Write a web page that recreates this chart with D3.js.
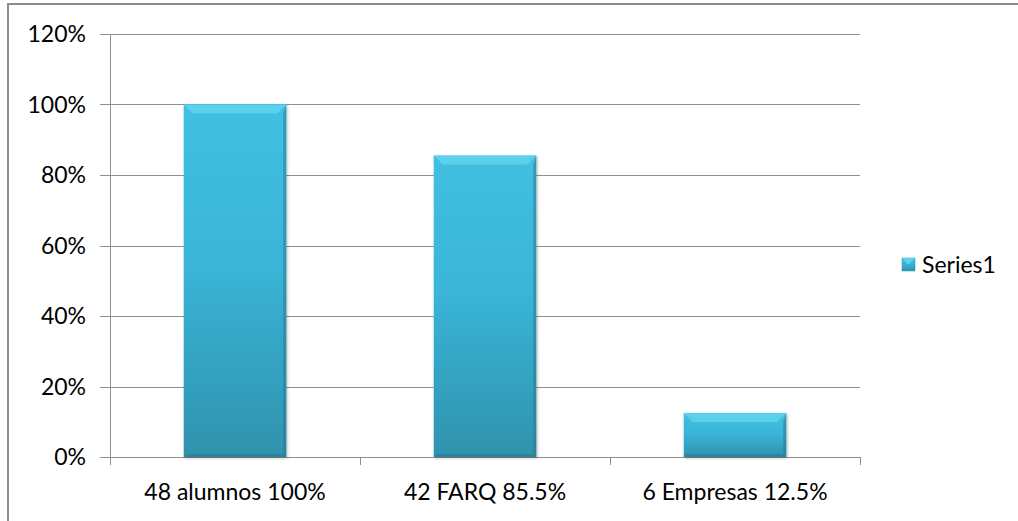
<!DOCTYPE html>
<html><head><meta charset="utf-8">
<script src="https://cdn.jsdelivr.net/npm/d3@7"></script>
<style>html,body{margin:0;padding:0;background:#fff}svg{display:block}</style>
</head><body><svg id="c" width="1018" height="521"></svg>
<script>
const categories = ["48 alumnos 100%", "42 FARQ 85.5%", "6 Empresas 12.5%"];
const series1 = [1.0, 0.855, 0.125];
const yTicks = [0, 0.2, 0.4, 0.6, 0.8, 1.0, 1.2];
const seriesName = "Series1";

const svg = d3.select("#c");
const font = "Lato, 'Open Sans', sans-serif";
const m = {left:110, right:860, top:34, bottom:457};

// frame
svg.append("rect").attr("x",8).attr("y",4).attr("width",1030).attr("height",540)
  .attr("fill","none").attr("stroke","#8c8c8c").attr("stroke-width",2);

const x = d3.scaleBand().domain(categories).range([m.left, m.right]).paddingInner(0.59).paddingOuter(0.295);
const y = d3.scaleLinear().domain([0, 1.2]).range([m.bottom, m.top]);

const defs = svg.append("defs");
const g = defs.append("linearGradient").attr("id","barg").attr("x1",0).attr("y1",0).attr("x2",0).attr("y2",1);
g.append("stop").attr("offset","0%").attr("stop-color","#40c0e2");
g.append("stop").attr("offset","45%").attr("stop-color","#3ab5d8");
g.append("stop").attr("offset","100%").attr("stop-color","#2f92ad");
const f = defs.append("filter").attr("id","sh").attr("x","-10%").attr("y","-10%").attr("width","130%").attr("height","130%");
f.append("feDropShadow").attr("dx",1).attr("dy",1).attr("stdDeviation",1.5).attr("flood-color","#000").attr("flood-opacity",0.3);

// gridlines
svg.append("g").selectAll("line").data(yTicks).join("line")
  .attr("x1", m.left-10).attr("x2", m.right)
  .attr("y1", d=>Math.round(y(d))+0.5).attr("y2", d=>Math.round(y(d))+0.5)
  .attr("stroke","#8f8f8f").attr("stroke-width",1);

// y labels
svg.append("g").selectAll("text").data(yTicks).join("text")
  .attr("x", 86).attr("y", d=>y(d)+8)
  .attr("text-anchor","end").attr("font-family",font).attr("font-size",23).attr("fill","#000")
  .text(d=>d3.format(".0%")(d));

// y axis line
svg.append("line").attr("x1",m.left+0.5).attr("x2",m.left+0.5).attr("y1",m.top).attr("y2",m.bottom+8)
  .attr("stroke","#8f8f8f");
// x ticks
const bounds = categories.map(c=>x(c)+x.bandwidth()+x.step()*x.paddingInner()/2);
svg.append("g").selectAll("line").data(bounds).join("line")
  .attr("x1",d=>Math.round(d)+0.5).attr("x2",d=>Math.round(d)+0.5).attr("y1",m.bottom).attr("y2",m.bottom+8)
  .attr("stroke","#8f8f8f");

// bars
const bars = svg.append("g").selectAll("g").data(categories).join("g");
bars.append("rect")
  .attr("x", c=>x(c)).attr("y", (c,i)=>y(series1[i])).attr("width", x.bandwidth())
  .attr("height", (c,i)=>y(0)-y(series1[i])).attr("fill","url(#barg)").attr("filter","url(#sh)");
// bevel top
bars.append("path").attr("d",(c,i)=>{
  const x0=x(c), x1=x(c)+x.bandwidth(), t=y(series1[i]), b=9;
  return `M${x0},${t}L${x1},${t}L${x1-b},${t+b}L${x0+b},${t+b}Z`;
}).attr("fill","#5fd3ef").attr("opacity",0.85);
bars.append("path").attr("d",(c,i)=>{
  const x1=x(c)+x.bandwidth(), t=y(series1[i]), h=y(0)-t, b=Math.min(9,h/2);
  return `M${x1},${t}L${x1},${y(0)}L${x1-3},${y(0)-3}L${x1-3},${t+b}Z`;
}).attr("fill","#24758c").attr("opacity",0.5);
bars.append("path").attr("d",(c,i)=>{
  const x0=x(c), x1=x(c)+x.bandwidth();
  return `M${x0},${y(0)}L${x1},${y(0)}L${x1-3},${y(0)-3}L${x0+3},${y(0)-3}Z`;
}).attr("fill","#24758c").attr("opacity",0.5);

// x labels
svg.append("g").selectAll("text").data(categories).join("text")
  .attr("x", c=>x(c)+x.bandwidth()/2).attr("y", 500)
  .attr("text-anchor","middle").attr("font-family",font).attr("font-size",23).attr("fill","#000")
  .text(c=>c);

// legend
const lg = svg.append("g");
lg.append("rect").attr("x",902).attr("y",258).attr("width",13).attr("height",13).attr("fill","url(#barg)").attr("stroke","#2f92ad").attr("stroke-width",0.5);
lg.append("path").attr("d","M902,258L915,258L908.5,264.5Z").attr("fill","#5fd3ef");
lg.append("text").attr("x",922).attr("y",273).attr("font-family",font).attr("font-size",23).attr("fill","#000").text(seriesName);
</script></body></html>
